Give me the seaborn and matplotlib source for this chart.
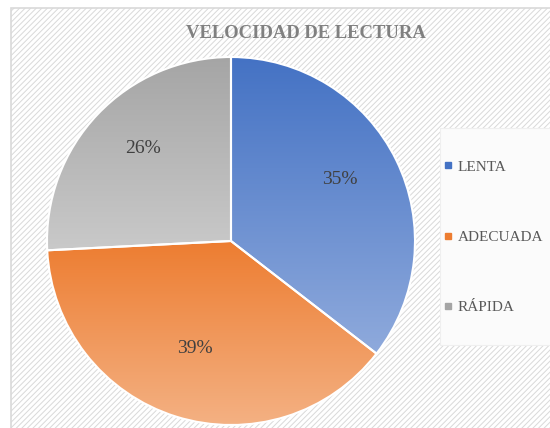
import numpy as np
import matplotlib
matplotlib.use('Agg')
import matplotlib.pyplot as plt
import seaborn as sns
from matplotlib.patches import Rectangle
from matplotlib.lines import Line2D
from matplotlib.colors import LinearSegmentedColormap

# Datos: velocidad de lectura (conteos)
categorias = ['LENTA', 'ADECUADA', 'RÁPIDA']
conteos = [11, 12, 8]
colores_sup = ['#4472C4', '#ED7D31', '#A5A5A5']
colores_inf = ['#8FAADC', '#F4B183', '#C9C9C9']
titulo = 'VELOCIDAD DE LECTURA'

sns.set_theme(style='white')
plt.rcParams['font.family'] = ['Liberation Serif', 'DejaVu Serif']
plt.rcParams['hatch.linewidth'] = 0.7
plt.rcParams['hatch.color'] = '#ededed'

W, H = 550, 428
fig = plt.figure(figsize=(W / 100, H / 100), dpi=100)
fig.patch.set_facecolor('white')

# fondo del grafico con trama diagonal
fondo = Rectangle((11 / W, -0.05), 1.1, (H - 8) / H + 0.05, transform=fig.transFigure,
                  facecolor='white', edgecolor='#d9d9d9', hatch='//////', linewidth=1.2, zorder=-2)
fig.patches.append(fondo)

# caja de la leyenda
caja = Rectangle((440 / W, (H - 345) / H), 0.3, 217 / H, transform=fig.transFigure,
                 facecolor='#fbfbfb', edgecolor='#efefef', linewidth=0.8, zorder=-1)
fig.patches.append(caja)

cx, cy, r = 231, H - 241, 184
ax = fig.add_axes([(cx - r) / W, (cy - r) / H, 2 * r / W, 2 * r / H])
ax.set_zorder(2)
ax.patch.set_alpha(0)

wedges, texts, autotexts = ax.pie(conteos, startangle=90, counterclock=False,
                                  autopct='%1.0f%%', pctdistance=0.66,
                                  wedgeprops=dict(edgecolor='white', linewidth=1.5),
                                  textprops=dict(fontsize=14, color='#404040'))

# degradado vertical dentro de cada sector
for w, c1, c2 in zip(wedges, colores_sup, colores_inf):
    bb = w.get_path().get_extents()
    cmap = LinearSegmentedColormap.from_list('g', [c1, c2])
    grad = np.linspace(1, 0, 256).reshape(-1, 1)
    im = ax.imshow(grad, extent=[bb.x0, bb.x1, bb.y0, bb.y1], origin='lower',
                   cmap=cmap, aspect='auto', zorder=1)
    im.set_clip_path(w)
    w.set_facecolor('none')
    w.set_zorder(2)
for t in autotexts:
    t.set_zorder(3)
    t.set_va('bottom')

ax.set_xlim(-1, 1)
ax.set_ylim(-1, 1)
ax.set_aspect('equal')
ax.axis('off')

fig.text(306 / W, 1 - 34 / H, titulo, ha='center', va='center', fontsize=13.4,
         fontweight='bold', color='#808080')

handles = [Line2D([], [], marker='s', linestyle='', markersize=4,
                  markerfacecolor=c, markeredgecolor=c) for c in colores_sup]
fig.legend(handles, categorias, loc='center left', bbox_to_anchor=(436 / W, (H - 237) / H),
           frameon=False, fontsize=11, labelcolor='#595959', labelspacing=3.7,
           handlelength=0.6, handletextpad=0.3, borderpad=0)

fig.savefig('out.png', dpi=100)
